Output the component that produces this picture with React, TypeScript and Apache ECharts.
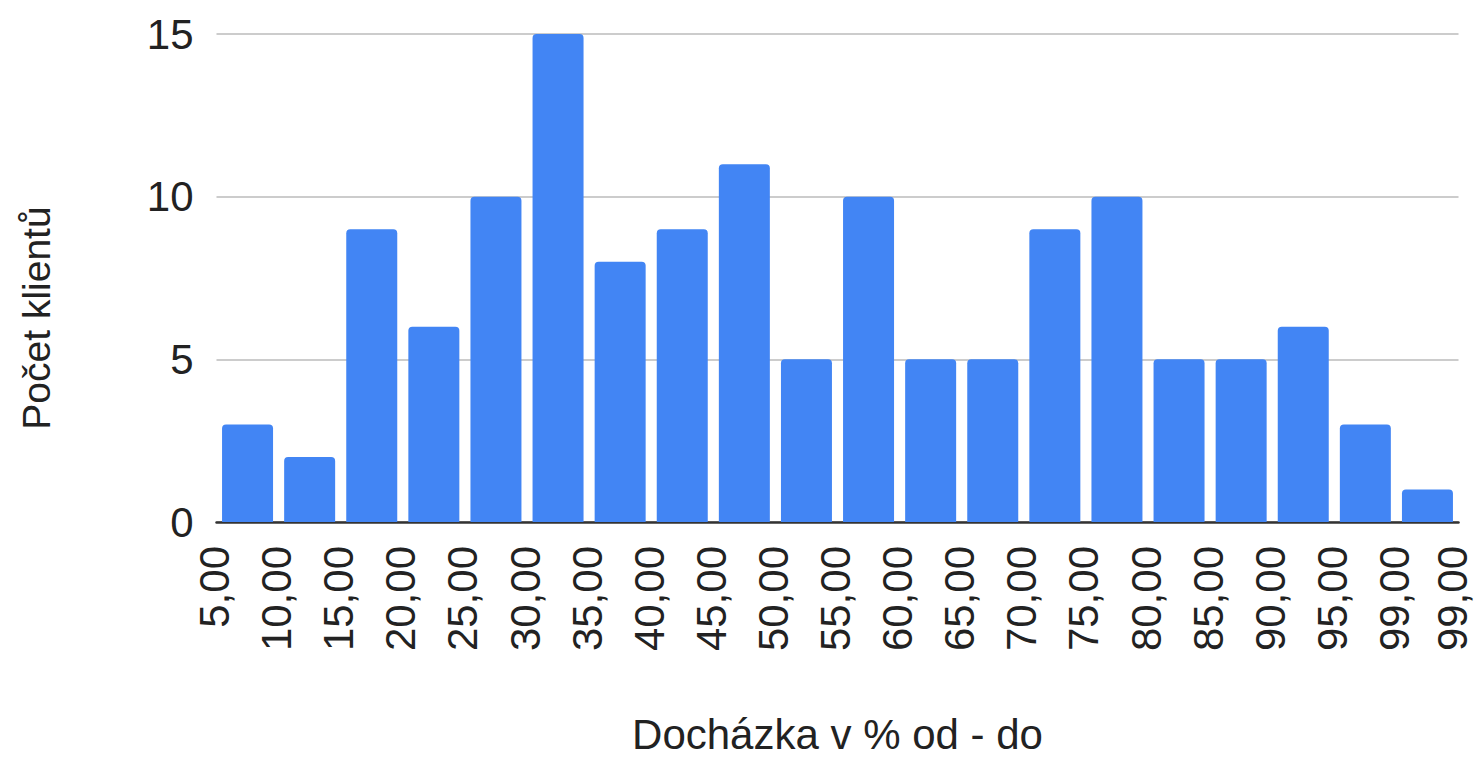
import React, { useEffect, useRef } from "react";
import * as echarts from "echarts";

const boundaryLabels = [
  "5,00", "10,00", "15,00", "20,00", "25,00", "30,00", "35,00", "40,00", "45,00", "50,00",
  "55,00", "60,00", "65,00", "70,00", "75,00", "80,00", "85,00", "90,00", "95,00", "99,00", "99,00",
];
const counts = [3, 2, 9, 6, 10, 15, 8, 9, 11, 5, 10, 5, 5, 9, 10, 5, 5, 6, 3, 1];
const yTicks = { min: 0, max: 15, interval: 5 };

const FONT = "'Liberation Sans', Arial, sans-serif";

export default function App() {
  const ref = useRef<HTMLDivElement>(null);
  useEffect(() => {
    if (!ref.current) return;
    const chart = echarts.init(ref.current, undefined, { renderer: "svg" });
    const tickStyle = { fontFamily: FONT, fontSize: 42, color: "#222" };
    chart.setOption({
      animation: false,
      backgroundColor: "#ffffff",
      grid: {
        left: 216.5,
        right: 17.5,
        top: 34,
        bottom: 236,
        containLabel: false,
        outerBoundsMode: "none",
      },
      xAxis: {
        type: "value",
        min: 0,
        max: counts.length,
        interval: 1,
        name: "Docházka v % od - do",
        nameLocation: "middle",
        nameGap: 191,
        nameTextStyle: { fontFamily: FONT, fontSize: 42, color: "#222" },
        axisLine: { show: true, onZero: false, lineStyle: { color: "#333", width: 2.5 } },
        axisTick: { show: false },
        splitLine: { show: false },
        axisLabel: {
          rotate: 90,
          margin: 24,
          showMinLabel: true,
          showMaxLabel: true,
          ...tickStyle,
          formatter: (v: number) => {
            const i = Math.round(v);
            const t = boundaryLabels[i] ?? "";
            return i === boundaryLabels.length - 1 ? `{last|${t}}` : `{n|${t}}`;
          },
          rich: {
            n: { ...tickStyle, lineHeight: 30, padding: [0, 0, 4, 0] },
            last: { ...tickStyle, lineHeight: 30, padding: [0, 0, 12, 0] },
          },
        },
      },
      yAxis: {
        type: "value",
        min: yTicks.min,
        max: yTicks.max,
        interval: yTicks.interval,
        axisLine: { show: false },
        axisTick: { show: false },
        splitLine: { show: true, lineStyle: { color: "#cccccc", width: 2 } },
        axisLabel: { margin: 23, ...tickStyle },
      },
      graphic: [
        {
          type: "text",
          x: 36,
          y: 318,
          rotation: Math.PI / 2,
          style: {
            text: "Počet klientů",
            fontFamily: FONT,
            fontSize: 39,
            fill: "#222",
            align: "center",
            verticalAlign: "middle",
          },
        },
      ],
      series: [
        {
          type: "bar",
          barWidth: 51,
          itemStyle: { color: "#4285f4", borderRadius: [4, 4, 0, 0] },
          data: counts.map((c, i) => [i + 0.5, c]),
          z: 3,
        },
      ],
    });
    return () => chart.dispose();
  }, []);
  return (
    <div
      ref={ref}
      style={{ position: "fixed", left: 0, top: 0, width: 1476, height: 758 }}
    />
  );
}
